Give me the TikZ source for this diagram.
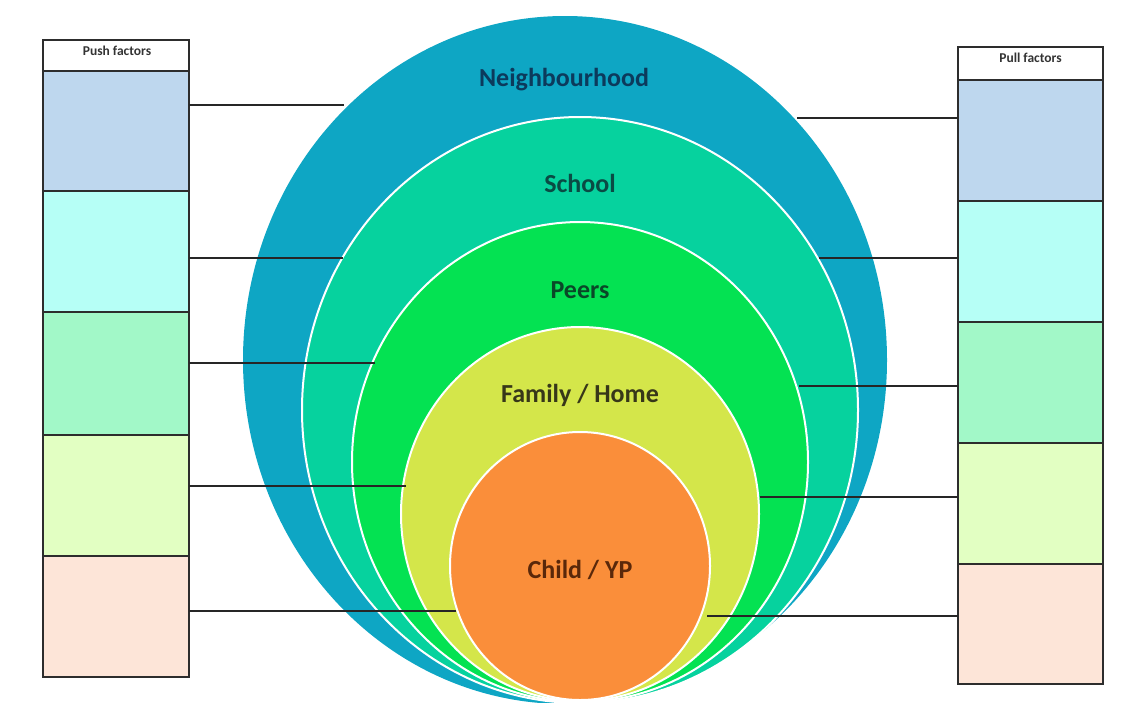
\documentclass[tikz,border=0pt]{standalone}
\usepackage{fontspec}
\setmainfont{Carlito}
\usetikzlibrary{shapes.geometric}

\definecolor{nbhC}{RGB}{14,166,196}
\definecolor{schC}{RGB}{6,210,158}
\definecolor{peerC}{RGB}{4,226,82}
\definecolor{famC}{RGB}{212,230,74}
\definecolor{kidC}{RGB}{250,142,58}
\definecolor{boxA}{RGB}{190,215,238}
\definecolor{boxB}{RGB}{182,255,246}
\definecolor{boxC}{RGB}{162,248,200}
\definecolor{boxD}{RGB}{226,255,194}
\definecolor{boxE}{RGB}{253,229,216}
\definecolor{edgeC}{RGB}{45,45,45}

\tikzset{
  ring/.style={ellipse, inner sep=0pt, outer sep=0pt},
  inner ring/.style={ring, draw=white, line width=2pt},
  ringlabel/.style={font=\bfseries\fontsize{26}{29}\selectfont},
  factor/.style={rectangle, draw=edgeC, line width=1.4pt, inner sep=0pt, outer sep=0pt, minimum width=146pt},
  headbox/.style={factor, fill=white},
  headtext/.style={font=\bfseries\fontsize{13.5}{15}\selectfont, text=black!80},
  link/.style={draw=black!85, line width=1.8pt}
}

\begin{document}
\begin{tikzpicture}[x=1pt, y=-1pt]
\useasboundingbox (0,0) rectangle (1129,702);

% nested circles of influence, outermost first
\node[ring, fill=nbhC, minimum width=644pt, minimum height=688pt] (nbh) at (565,360) {};
\node[inner ring, fill=schC, minimum width=556pt, minimum height=586pt] (sch) at (580,410) {};
\node[inner ring, fill=peerC, minimum width=456pt, minimum height=480pt] (peer) at (580,462) {};
\node[inner ring, fill=famC, minimum width=358pt, minimum height=374pt] (fam) at (580,514) {};
\node[inner ring, fill=kidC, minimum width=260pt, minimum height=268pt] (kid) at (580,566) {};

\node[ringlabel, text={rgb,255:red,12;green,58;blue,92}] (tNbh) at (564,80) {Neighbourhood};
\node[ringlabel, text={rgb,255:red,10;green,75;blue,68}] (tSch) at (580,183) {School};
\node[ringlabel, text={rgb,255:red,10;green,72;blue,40}] (tPeer) at (580,290) {Peers};
\node[ringlabel, text={rgb,255:red,55;green,55;blue,25}] (tFam) at (580,395) {Family / Home};
\node[ringlabel, text={rgb,255:red,90;green,40;blue,10}] (tKid) at (580,570) {Child / YP};

% push factors column
\node[headbox, minimum height=31pt] (pushH) at (116,55.5) {};
\node[headtext] (pushT) at (117,51) {Push factors};
\node[factor, fill=boxA, minimum height=120pt] (pushA) at (116,131) {};
\node[factor, fill=boxB, minimum height=121pt] (pushB) at (116,251.5) {};
\node[factor, fill=boxC, minimum height=123pt] (pushC) at (116,373.5) {};
\node[factor, fill=boxD, minimum height=121pt] (pushD) at (116,495.5) {};
\node[factor, fill=boxE, minimum height=121pt] (pushE) at (116,616.5) {};

% pull factors column
\node[headbox, minimum height=33pt, minimum width=145pt] (pullH) at (1030.5,63.5) {};
\node[headtext] (pullT) at (1030.5,58) {Pull factors};
\node[factor, fill=boxA, minimum width=145pt, minimum height=121pt] (pullA) at (1030.5,140.5) {};
\node[factor, fill=boxB, minimum width=145pt, minimum height=121pt] (pullB) at (1030.5,261.5) {};
\node[factor, fill=boxC, minimum width=145pt, minimum height=121pt] (pullC) at (1030.5,382.5) {};
\node[factor, fill=boxD, minimum width=145pt, minimum height=121pt] (pullD) at (1030.5,503.5) {};
\node[factor, fill=boxE, minimum width=145pt, minimum height=120pt] (pullE) at (1030.5,624) {};

% points where the links meet the rings
\coordinate (lNbh) at (344,105);
\coordinate (lSch) at (343,258);
\coordinate (lPeer) at (375,363);
\coordinate (lFam) at (406,486);
\coordinate (lKid) at (456,611);
\coordinate (rNbh) at (797,118);
\coordinate (rSch) at (819,258);
\coordinate (rPeer) at (799,386);
\coordinate (rFam) at (760,497);
\coordinate (rKid) at (707,616);

\draw[link] (lNbh -| pushA.east) -- (lNbh);
\draw[link] (lSch -| pushB.east) -- (lSch);
\draw[link] (lPeer -| pushC.east) -- (lPeer);
\draw[link] (lFam -| pushD.east) -- (lFam);
\draw[link] (lKid -| pushE.east) -- (lKid);

\draw[link] (rNbh) -- (rNbh -| pullA.west);
\draw[link] (rSch) -- (rSch -| pullB.west);
\draw[link] (rPeer) -- (rPeer -| pullC.west);
\draw[link] (rFam) -- (rFam -| pullD.west);
\draw[link] (rKid) -- (rKid -| pullE.west);
\end{tikzpicture}
\end{document}
